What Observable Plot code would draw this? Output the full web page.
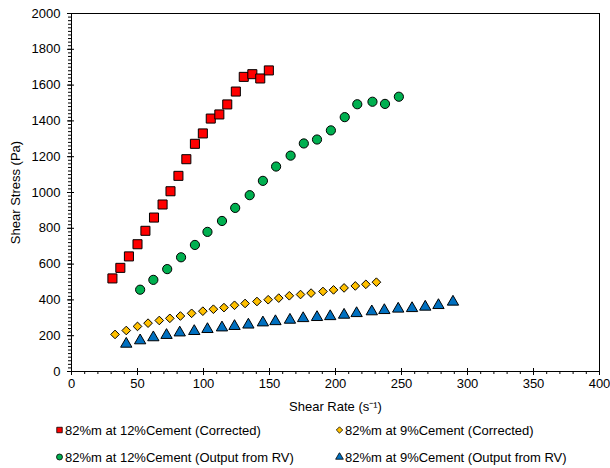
<!DOCTYPE html>
<html><head><meta charset="utf-8">
<script src="https://cdn.jsdelivr.net/npm/d3@7"></script>
<script src="https://cdn.jsdelivr.net/npm/@observablehq/plot@0.6"></script>
<style>
body{margin:0;background:#fff;font-family:"Liberation Sans",Arial,sans-serif;}
#wrap{position:relative;width:610px;height:468px;background:#fff;}
.leg{position:absolute;font-size:13px;color:#000;white-space:nowrap;display:flex;align-items:center;transform:translateY(-50%);}
.leg svg{margin-right:1px;}
</style></head><body><div id="wrap"><div id="chart"></div></div>
<script>
const seriesNames = [
  "82%m at 12%Cement (Corrected)",
  "82%m at 9%Cement (Corrected)",
  "82%m at 12%Cement (Output from RV)",
  "82%m at 9%Cement (Output from RV)"
];
const seriesColors = ["#FF0000", "#FFC000", "#00B050", "#0070C0"];
const seriesSymbols = ["square", "diamond2", "circle", "triangle"];

const redX = [31, 37, 43.5, 50, 56, 62.5, 69, 75, 81, 87, 93.5, 99.5, 105.5, 112, 118, 124.5, 130.5, 137, 143, 149.5];
const redY = [520, 579, 643, 711, 786, 860, 933, 1007, 1093, 1186, 1272, 1330, 1413, 1436, 1492, 1564, 1646, 1661, 1637, 1682];

const yellowX = [33, 41.5, 50, 58, 66.5, 74.5, 82.5, 91, 99.5, 107.5, 115.5, 123.5, 131.5, 140.5, 149, 157, 165, 173.5, 181.5, 190.5, 198.5, 206.5, 215, 223, 231];
const yellowY = [207, 229, 252, 270, 285, 297, 310, 325, 337, 348, 357, 370, 380, 391, 401, 410, 423, 430, 438, 447, 456, 467, 478, 487, 499];

const greenX = [52, 62, 72.5, 83, 93.5, 103, 114, 124, 135, 145, 155, 166, 176, 186, 196.5, 207, 216.5, 228, 237.5, 248];
const greenY = [457, 512, 572, 638, 707, 780, 841, 914, 985, 1065, 1145, 1206, 1274, 1296, 1347, 1421, 1493, 1507, 1495, 1535];

const blueX = [41.5, 52, 62, 72, 82, 93, 103, 114, 123.5, 134, 145, 154.5, 165.5, 175.5, 186, 196, 206.5, 216, 227.5, 237, 247.5, 258, 268, 278, 289];
const blueY = [154, 173, 190, 203, 217, 225, 236, 245, 253, 261, 273, 280, 288, 297, 303, 308, 316, 325, 335, 342, 350, 353, 361, 370, 389];

const xTicks = [0, 50, 100, 150, 200, 250, 300, 350, 400];
const yTicks = [0, 200, 400, 600, 800, 1000, 1200, 1400, 1600, 1800, 2000];
const xMinor = d3.range(0, 401, 10);
const yMinor = d3.range(0, 2001, 20);

const toRows = (xs, ys) => xs.map((x, i) => ({x, y: ys[i]}));
const sets = [toRows(redX, redY), toRows(yellowX, yellowY), toRows(greenX, greenY), toRows(blueX, blueY)];
const radii = [5.1, 3.9, 4.6, 4.2];
const fmt = d => String(d);

const chart = Plot.plot({
  width: 610, height: 414,
  marginLeft: 71, marginRight: 11, marginTop: 13, marginBottom: 43,
  style: {fontFamily: "'Liberation Sans', Arial, sans-serif", fontSize: "13px", color: "#000", background: "#fff", overflow: "visible"},
  x: {domain: [0, 400]},
  y: {domain: [0, 2000]},
  marks: [
    Plot.axisX(xMinor, {tickSize: 3, text: null, label: null}),
    Plot.axisX(xTicks, {tickSize: 4, tickPadding: 3, tickFormat: fmt, label: "Shear Rate (s⁻¹)", labelAnchor: "center", labelArrow: "none", labelOffset: 39}),
    Plot.axisX(xTicks, {tickSize: -3, text: null, label: null}),
    Plot.axisY(yMinor, {tickSize: 3, text: null, label: null}),
    Plot.axisY(yTicks, {tickSize: 4, tickPadding: 7, tickFormat: fmt, label: "Shear Stress (Pa)", labelAnchor: "center", labelArrow: "none", labelOffset: 61}),
    Plot.axisY(yTicks, {tickSize: -3, text: null, label: null}),
    Plot.frame({stroke: "#000", strokeWidth: 1}),
    ...[0, 2, 1, 3].map(i => Plot.dot(sets[i], {x: "x", y: "y", symbol: seriesSymbols[i], fill: seriesColors[i], stroke: "#000", strokeWidth: 1, r: radii[i]}))
  ]
});
document.getElementById("chart").append(chart);

// legend
const wrap = document.getElementById("wrap");
const legPos = [[55, 430], [335, 430], [55, 457], [335, 457]];
seriesNames.forEach((name, i) => {
  const div = document.createElement("div");
  div.className = "leg";
  div.style.left = legPos[i][0] + "px";
  div.style.top = legPos[i][1] + "px";
  const sym = d3.symbol(
    {square: d3.symbolSquare, circle: d3.symbolCircle, diamond2: d3.symbolDiamond2, triangle: d3.symbolTriangle}[seriesSymbols[i]],
    [30, 26, 28, 26][i]
  )();
  div.innerHTML = `<svg width="9" height="9" viewBox="-4.5 -4.5 9 9"><path d="${sym}" fill="${seriesColors[i]}" stroke="#000" stroke-width="0.8"/></svg><span>${name}</span>`;
  wrap.append(div);
});
</script></body></html>
